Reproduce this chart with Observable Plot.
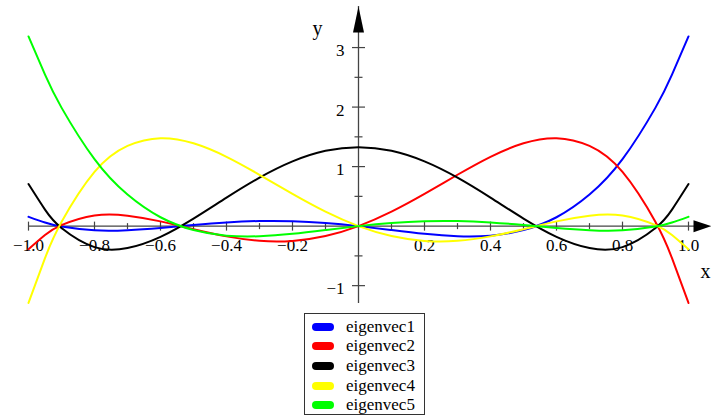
<!DOCTYPE html>
<html><head><meta charset="utf-8">
<script src="https://cdn.jsdelivr.net/npm/d3@7"></script>
<script src="https://cdn.jsdelivr.net/npm/@observablehq/plot@0.6"></script>
<style>
body{margin:0;background:#fff;}
#wrap{position:relative;width:711px;height:419px;font-family:"Liberation Serif","Times New Roman",serif;}
#legend{position:absolute;left:304px;top:313px;width:121px;height:102px;box-sizing:border-box;border:1px solid #333;padding-top:3px;background:#fff;}
.row{height:19.6px;display:flex;align-items:center;font-size:17px;color:#000;}
.sw{width:22px;height:8px;border-radius:4px;margin-left:7px;margin-right:12px;flex:none;}
</style></head><body><div id="wrap"></div>
<script>
const xs = [-1, -0.95, -0.9, -0.8, -0.7, -0.6, -0.5, -0.4, -0.3, -0.2, -0.1, 0, 0.1, 0.2, 0.3, 0.4, 0.5, 0.6, 0.7, 0.8, 0.9, 0.95, 1];
const eigenvec1 = [0.157, 0.060, -0.007, -0.070, -0.068, -0.030, 0.019, 0.062, 0.086, 0.083, 0.053, 0, -0.066, -0.130, -0.170, -0.160, -0.066, 0.149, 0.530, 1.125, 1.991, 2.544, 3.187];
const eigenvec2 = [-0.387, -0.149, 0.017, 0.178, 0.176, 0.080, -0.052, -0.172, -0.246, -0.248, -0.167, 0, 0.243, 0.541, 0.863, 1.165, 1.392, 1.478, 1.347, 0.910, 0.068, -0.539, -1.291];
const eigenvec3 = [0.707, 0.277, -0.032, -0.353, -0.369, -0.180, 0.127, 0.479, 0.814, 1.087, 1.265, 1.326, 1.265, 1.087, 0.814, 0.479, 0.127, -0.180, -0.369, -0.353, -0.032, 0.277, 0.707];
const eigenvec4 = [-1.291, -0.539, 0.068, 0.910, 1.347, 1.478, 1.392, 1.165, 0.863, 0.541, 0.243, 0, -0.167, -0.248, -0.246, -0.172, -0.052, 0.080, 0.176, 0.178, 0.017, -0.149, -0.387];
const eigenvec5 = [3.187, 2.544, 1.991, 1.125, 0.530, 0.149, -0.066, -0.160, -0.170, -0.130, -0.066, 0, 0.053, 0.083, 0.086, 0.062, 0.019, -0.030, -0.068, -0.070, -0.007, 0.060, 0.157];
const seriesNames = ["eigenvec1", "eigenvec2", "eigenvec3", "eigenvec4", "eigenvec5"];
const seriesColors = ["#0000ff", "#ff0000", "#000000", "#ffff00", "#00ff00"];
const xMajorTicks = [-1, -0.8, -0.6, -0.4, -0.2, 0.2, 0.4, 0.6, 0.8, 1];
const xMinorTicks = [-0.9, -0.7, -0.5, -0.3, -0.1, 0.1, 0.3, 0.5, 0.7, 0.9];
const xTickLabels = ["−1.0", "−0.8", "−0.6", "−0.4", "−0.2", "0.2", "0.4", "0.6", "0.8", "1.0"];
const yMajorTicks = [-1, 1, 2, 3];
const yMinorTicks = [-0.5, 0.5, 1.5, 2.5];
const yTickLabels = ["−1", "1", "2", "3"];

const allSeries = [eigenvec1, eigenvec2, eigenvec3, eigenvec4, eigenvec5];
const rows = [];
allSeries.forEach((vals, k) => vals.forEach((v, i) => rows.push({x: xs[i], y: v, s: seriesNames[k]})));

const vTick = len => ({draw(ctx) { ctx.moveTo(0, -len); ctx.lineTo(0, len); }});
const hTick = len => ({draw(ctx) { ctx.moveTo(-len, 0); ctx.lineTo(len, 0); }});
const arrowRight = {draw(ctx) { ctx.moveTo(0, 0); ctx.lineTo(-18, -6); ctx.lineTo(-18, 6); ctx.closePath(); }};
const arrowUp = {draw(ctx) { ctx.moveTo(0, 0); ctx.lineTo(-5.5, 26); ctx.lineTo(5.5, 26); ctx.closePath(); }};

const axisColor = "#444";
const font = "Liberation Serif";
const zero = () => 0;

const plot = Plot.plot({
  width: 711,
  height: 310,
  marginLeft: 28,
  marginRight: 23,
  marginTop: 6,
  marginBottom: 7,
  x: {domain: [-1, 1], axis: null},
  y: {domain: [-1.3, 3.69], axis: null},
  style: {fontFamily: font, background: "#fff", overflow: "visible"},
  marks: [
    Plot.ruleY([0], {x1: -1, x2: 1.05, stroke: axisColor, strokeWidth: 1.3}),
    Plot.ruleX([0], {stroke: axisColor, strokeWidth: 1.3}),
    Plot.dot(xMajorTicks, {x: d => d, y: zero, symbol: vTick(4.5), stroke: axisColor, fill: "none", strokeWidth: 1.2}),
    Plot.dot(xMinorTicks, {x: d => d, y: zero, symbol: vTick(3), stroke: axisColor, fill: "none", strokeWidth: 1.2}),
    Plot.dot(yMajorTicks, {x: zero, y: d => d, symbol: hTick(6.5), stroke: axisColor, fill: "none", strokeWidth: 1.2}),
    Plot.dot(yMinorTicks, {x: zero, y: d => d, symbol: hTick(4), stroke: axisColor, fill: "none", strokeWidth: 1.2}),
    Plot.dot([1], {x: d => d, y: zero, dx: 23, symbol: arrowRight, fill: "#000", stroke: "none"}),
    Plot.dot([3.69], {x: zero, y: d => d, symbol: arrowUp, fill: "#000", stroke: "none"}),
    Plot.text(xMajorTicks, {x: d => d, y: zero, text: (d, i) => xTickLabels[i], dy: 19, fontSize: 17, fontFamily: font, fill: "#000"}),
    Plot.text(yMajorTicks, {x: zero, y: d => d, text: (d, i) => yTickLabels[i], dx: -14, dy: 3, textAnchor: "end", fontSize: 17, fontFamily: font, fill: "#000"}),
    Plot.text(["y"], {x: zero, y: () => 3.69, text: d => d, dx: -41, dy: 22, fontSize: 20, fontFamily: font, fill: "#000"}),
    Plot.text(["x"], {x: () => 1, y: zero, text: d => d, dx: 17, dy: 45, fontSize: 20, fontFamily: font, fill: "#000"}),
    ...seriesNames.map((name, k) => Plot.line(rows.filter(r => r.s === name), {x: "x", y: "y", stroke: seriesColors[k], strokeWidth: 2, curve: "natural"}))
  ]
});

const wrap = document.getElementById("wrap");
wrap.appendChild(plot);
const legend = document.createElement("div");
legend.id = "legend";
seriesNames.forEach((name, k) => {
  const row = document.createElement("div");
  row.className = "row";
  const sw = document.createElement("span");
  sw.className = "sw";
  sw.style.background = seriesColors[k];
  const t = document.createElement("span");
  t.textContent = name;
  row.appendChild(sw);
  row.appendChild(t);
  legend.appendChild(row);
});
wrap.appendChild(legend);
</script></body></html>
